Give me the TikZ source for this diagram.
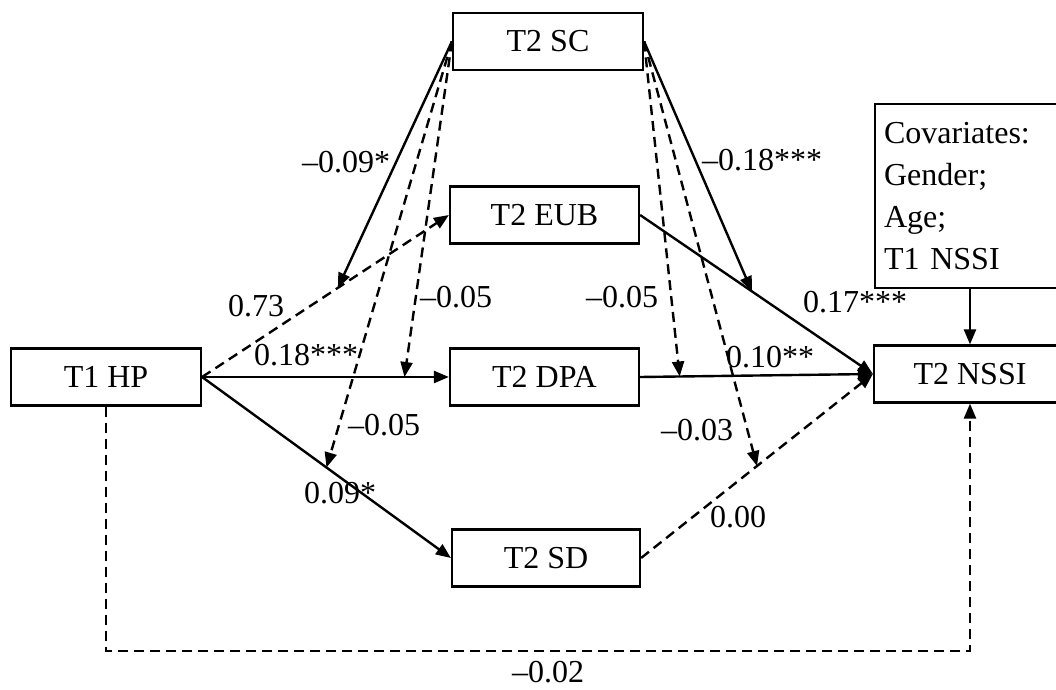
\documentclass[tikz,border=0pt]{standalone}
\usepackage{fontspec}
\setmainfont{Liberation Serif}
\usetikzlibrary{arrows.meta}
\begin{document}
\begin{tikzpicture}[x=0.5pt,y=-0.5pt,
  box/.style={draw,line width=1.1pt,minimum width=95pt,minimum height=28.5pt,inner sep=0pt,font=\fontsize{16}{21}\selectfont},
  lab/.style={font=\fontsize{16}{21}\selectfont,inner sep=1pt},
  conn/.style={line width=1.2pt},
  dsh/.style={line width=1.2pt,dash pattern=on 5pt off 3pt},
  tip/.style={-{Triangle[length=7.5pt,width=6pt]}}]
\useasboundingbox (0,0) rectangle (1056,690);
% nodes
\node[box] (sc) at (548,41.5) {T2 SC};
\node[box,minimum width=94.5pt] (eub) at (544.5,215) {T2 EUB};
\node[box,minimum width=94.5pt] (dpa) at (544.5,377) {T2 DPA};
\node[box,minimum width=94pt] (sd) at (546,558) {T2 SD};
\node[box] (hp) at (106,377) {T1 HP};
\node[box,minimum width=96pt] (nssi) at (970,374) {T2 NSSI};
\node[box,minimum width=98pt,minimum height=92pt,text width=89pt,inner xsep=4.5pt,align=left,anchor=north west] (cov) at (874,103)
  {Covariates:\\Gender;\\Age;\\T1 NSSI};
% main paths
\draw[dsh,tip] (hp.east) -- (eub.west) coordinate[pos=0.55] (m1);
\draw[conn,tip] (hp.east) -- (dpa.west) coordinate[pos=0.82] (m2);
\draw[conn,tip] (hp.east) -- (sd.west) coordinate[pos=0.5] (m3);
\draw[conn,tip] (eub.east) -- (nssi.west) coordinate[pos=0.48] (m4);
\draw[conn,tip] (dpa.east) -- (nssi.west) coordinate[pos=0.17] (m5);
\draw[dsh,tip] (sd.east) -- (nssi.west) coordinate[pos=0.5] (m6);
\draw[conn,tip] (cov.south -| nssi) -- (nssi.north);
\coordinate (b1) at (106,651);
\coordinate (b2) at (970,651);
\draw[dsh,tip] (hp.south) -- (b1) -- (b2) -- (nssi.south);
% moderation paths
\draw[conn,tip] (sc.west) -- (m1);
\draw[dsh,tip] (sc.west) -- (m2);
\draw[dsh,tip] (sc.west) -- (m3);
\draw[conn,tip] (sc.east) -- (m4);
\draw[dsh,tip] (sc.east) -- (m5);
\draw[dsh,tip] (sc.east) -- (m6);
% labels
\node[lab] (l1) at (256,306) {0.73};
\node[lab] (l2) at (306,355) {0.18***};
\node[lab] (l3) at (340,493) {0.09*};
\node[lab] (l4) at (855,302) {0.17***};
\node[lab] (l5) at (770,357) {0.10**};
\node[lab] (l6) at (738,517) {0.00};
\node[lab] (l7) at (548,672) {–0.02};
\node[lab] (l8) at (346,162) {–0.09*};
\node[lab] (l9) at (456,297) {–0.05};
\node[lab] (l10) at (384,425) {–0.05};
\node[lab] (l11) at (762,160) {–0.18***};
\node[lab] (l12) at (622,297) {–0.05};
\node[lab] (l13) at (697,430) {–0.03};
\end{tikzpicture}
\end{document}
